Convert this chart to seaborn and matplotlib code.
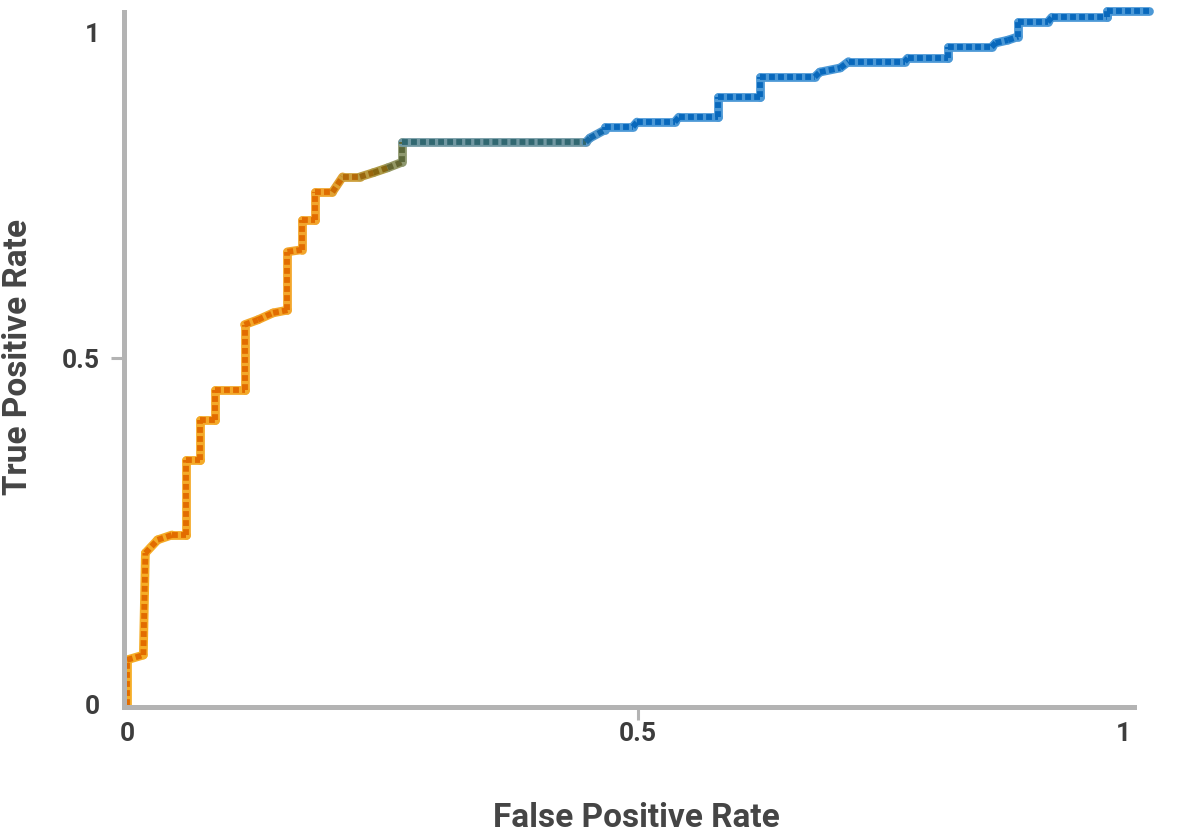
import matplotlib
matplotlib.use("Agg")
import numpy as np
import pandas as pd
import matplotlib.pyplot as plt
import seaborn as sns
from matplotlib.colors import LinearSegmentedColormap
from matplotlib.transforms import ScaledTranslation

# ROC curve vertices
fpr = [0.0, 0.0, 0.016, 0.018, 0.030, 0.044, 0.058, 0.058, 0.071, 0.071,
       0.086, 0.086, 0.115, 0.115, 0.128, 0.143, 0.157, 0.157, 0.171, 0.171,
       0.184, 0.184, 0.201, 0.211, 0.228, 0.241, 0.255, 0.269, 0.269, 0.449,
       0.453, 0.468, 0.468, 0.495, 0.499, 0.536, 0.540, 0.578, 0.578, 0.619,
       0.619, 0.673, 0.678, 0.698, 0.706, 0.761, 0.764, 0.803, 0.803, 0.846,
       0.850, 0.862, 0.872, 0.872, 0.901, 0.905, 0.959, 0.959, 1.0]
tpr = [0.0, 0.065, 0.072, 0.219, 0.238, 0.245, 0.245, 0.353, 0.353, 0.411,
       0.411, 0.454, 0.454, 0.548, 0.555, 0.565, 0.569, 0.653, 0.656, 0.699,
       0.699, 0.739, 0.739, 0.761, 0.761, 0.767, 0.774, 0.782, 0.811, 0.811,
       0.817, 0.829, 0.833, 0.833, 0.840, 0.840, 0.847, 0.847, 0.876, 0.876,
       0.905, 0.905, 0.912, 0.918, 0.927, 0.927, 0.932, 0.932, 0.948, 0.948,
       0.954, 0.958, 0.963, 0.984, 0.984, 0.991, 0.991, 1.0, 1.0]

tick_values = [0, 0.5, 1]
tick_labels = ["0", "0.5", "1"]

# gradient along the curve: orange -> olive -> grey teal -> blue
dark_stops = [(0.0, "#e26c00"), (0.19, "#e26c00"), (0.25, "#826612"),
              (0.28, "#3c675a"), (0.43, "#276886"), (0.47, "#0868bc"), (1.0, "#0868bc")]
light_stops = [(0.0, "#f5ad26"), (0.19, "#f2a42c"), (0.25, "#a89848"),
               (0.28, "#7a988e"), (0.43, "#6898b6"), (0.47, "#4b98d6"), (1.0, "#4b98d6")]
cmap_dark = LinearSegmentedColormap.from_list("roc_dark", dark_stops)
cmap_light = LinearSegmentedColormap.from_list("roc_light", light_stops)

rows = []
pal_dark, pal_light = {}, {}
for i in range(len(fpr) - 1):
    rows.append({"seg": i, "fpr": fpr[i], "tpr": tpr[i]})
    rows.append({"seg": i, "fpr": fpr[i + 1], "tpr": tpr[i + 1]})
    mid = (fpr[i] + fpr[i + 1]) / 2
    pal_dark[i] = cmap_dark(mid)
    pal_light[i] = cmap_light(mid)
df = pd.DataFrame(rows)

sns.set_theme(style="white")
plt.rcParams["font.family"] = ["Roboto", "DejaVu Sans"]

fig = plt.figure(figsize=(11.8, 8.36), dpi=100)
ax = fig.add_axes([124 / 1180, 1 - 707 / 836, 1046 / 1180, 702 / 836])

# light base stroke + darker dashes on top
sns.lineplot(data=df, x="fpr", y="tpr", hue="seg", units="seg", estimator=None,
             sort=False, palette=pal_light, linewidth=6.3, legend=False, ax=ax,
             solid_capstyle="round", clip_on=False)
sns.lineplot(data=df, x="fpr", y="tpr", hue="seg", units="seg", estimator=None,
             sort=False, palette=pal_dark, linewidth=4.2, legend=False, ax=ax,
             linestyle=(0, (1.0, 0.55)), dash_capstyle="butt", clip_on=False)

ax.set_xlim(-3 / 1022, 1043 / 1022)
ax.set_ylim(-2 / 694, 700 / 694)

grey = "#b3b3b3"
for side in ["top", "right"]:
    ax.spines[side].set_visible(False)
for side in ["left", "bottom"]:
    ax.spines[side].set_color(grey)
    ax.spines[side].set_linewidth(3.6)
ax.spines["bottom"].set_bounds(-3 / 1022, 0.985)
ax.spines["left"].set_bounds(-2 / 694, 0.9986)

ax.set_xticks(tick_values)
ax.set_xticklabels(tick_labels)
ax.set_yticks(tick_values)
ax.set_yticklabels(tick_labels)
ax.tick_params(axis="both", bottom=True, left=True, length=9.5, width=2.2,
               color=grey, labelsize=19, labelcolor="#3d3d3d")
ax.tick_params(axis="x", pad=1.5)
ax.tick_params(axis="y", pad=8)
for lab in ax.get_xticklabels() + ax.get_yticklabels():
    lab.set_fontweight("bold")
for t in (ax.xaxis.get_major_ticks()[0], ax.xaxis.get_major_ticks()[2],
          ax.yaxis.get_major_ticks()[0], ax.yaxis.get_major_ticks()[2]):
    t.tick1line.set_visible(False)

# the "1" labels sit a little inside the ends in the original
lab_x1 = ax.get_xticklabels()[2]
lab_x1.set_transform(lab_x1.get_transform() + ScaledTranslation(-0.26, 0, fig.dpi_scale_trans))
lab_y1 = ax.get_yticklabels()[2]
lab_y1.set_transform(lab_y1.get_transform() + ScaledTranslation(0, -0.22, fig.dpi_scale_trans))

ax.set_xlabel("False Positive Rate", fontsize=24, fontweight="bold",
              color="#454545", va="center")
ax.set_ylabel("True Positive Rate", fontsize=24, fontweight="bold",
              color="#454545", va="center")
ax.xaxis.set_label_coords((636 - 124) / 1046, (707 - 818) / 702)
ax.yaxis.set_label_coords((18 - 124) / 1046, (707 - 357) / 702)

fig.savefig("out.png", dpi=100)
